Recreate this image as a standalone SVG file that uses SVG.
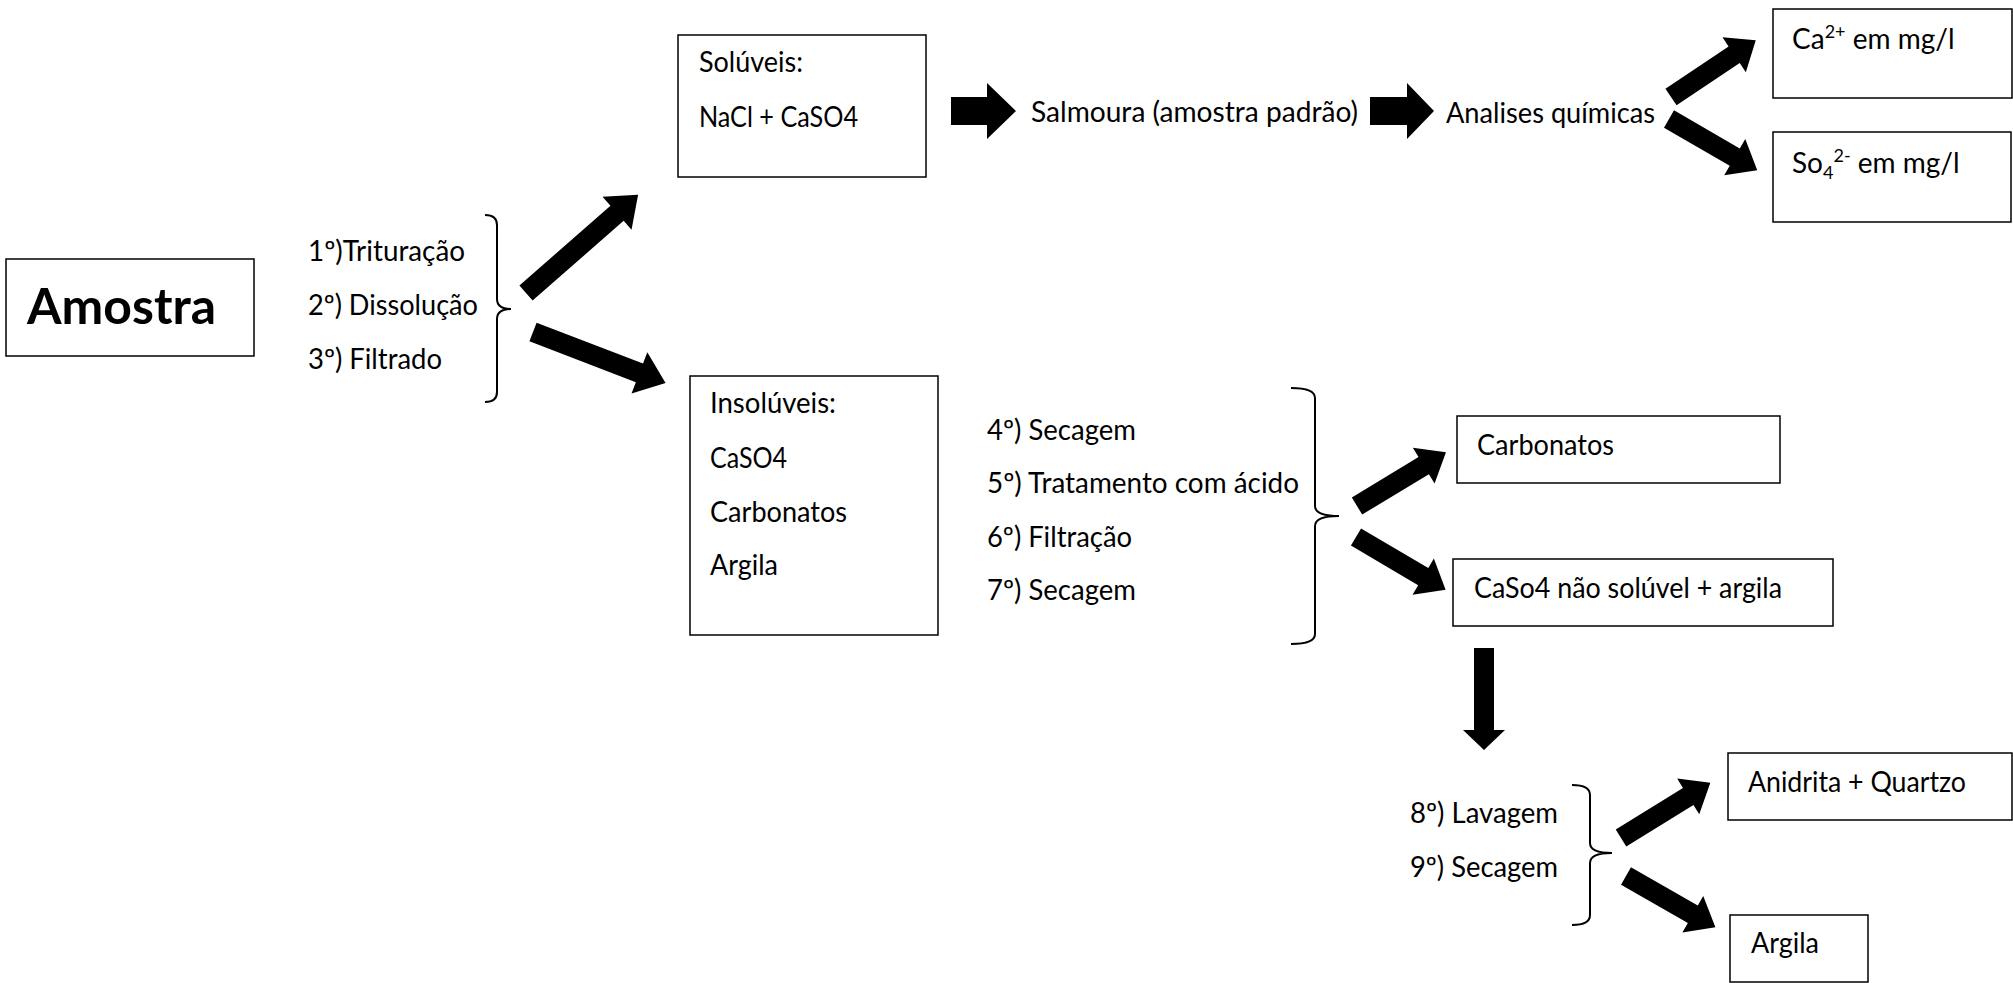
<svg xmlns="http://www.w3.org/2000/svg" width="2013" height="983" viewBox="0 0 2013 983">
  <defs>
    <style>
      .box { fill: #ffffff; stroke: #000000; stroke-width: 1.5; }
      .t { font-family: Lato, "Open Sans", "Liberation Sans", sans-serif; font-size: 28px; fill: #000000; }
      .big { font-family: Lato, "Open Sans", "Liberation Sans", sans-serif; font-size: 49px; font-weight: bold; fill: #000000; }
      .sup { font-size: 18px; }
      .brace { fill: none; stroke: #000000; stroke-width: 2; }
      .arrow { fill: #000000; stroke: none; }
    </style>
  </defs>
  <rect width="2013" height="983" fill="#ffffff"/>

  <!-- connectors: block arrows and braces -->
  <g id="connectors">
    <!-- brace after steps 1-3 -->
    <path class="brace" d="M485,215 Q497,215 497,225 V299 Q497,309 511,309 Q497,309 497,319 V392 Q497,402 485,402"/>
    <!-- brace after steps 4-7 -->
    <path class="brace" d="M1291,388 Q1315,388 1315,398 V506 Q1315,516 1339,516 Q1315,516 1315,526 V634 Q1315,644 1291,644"/>
    <!-- brace after steps 8-9 -->
    <path class="brace" d="M1572,785 Q1590,785 1590,795 V843 Q1590,853 1612,853 Q1590,853 1590,863 V915 Q1590,925 1572,925"/>

    <!-- from steps 1-3 to Solúveis / Insolúveis -->
    <polygon class="arrow" transform="translate(526,293) rotate(-41.2)" points="0,-10 121,-10 121,-22 149,0 121,22 121,10 0,10"/>
    <polygon class="arrow" transform="translate(533,332) rotate(21)" points="0,-10 114,-10 114,-22 142,0 114,22 114,10 0,10"/>

    <!-- horizontal chain on the top row -->
    <polygon class="arrow" points="951,97 987,97 987,83 1016,111 987,139 987,125 951,125"/>
    <polygon class="arrow" points="1370,97 1407,97 1407,83 1434,111 1407,139 1407,125 1370,125"/>

    <!-- from Analises químicas -->
    <polygon class="arrow" transform="translate(1671,97) rotate(-33.8)" points="0,-10 76,-10 76,-21 102,0 76,21 76,10 0,10"/>
    <polygon class="arrow" transform="translate(1669,119) rotate(30.1)" points="0,-10 76,-10 76,-21 102,0 76,21 76,10 0,10"/>

    <!-- from steps 4-7 -->
    <polygon class="arrow" transform="translate(1357,506) rotate(-31.2)" points="0,-10 78,-10 78,-21 104,0 78,21 78,10 0,10"/>
    <polygon class="arrow" transform="translate(1356,537) rotate(30.5)" points="0,-10 78,-10 78,-21 104,0 78,21 78,10 0,10"/>

    <!-- down from CaSo4 não solúvel + argila -->
    <polygon class="arrow" points="1474,648 1494,648 1494,730 1505,730 1484,750 1463,730 1474,730"/>

    <!-- from steps 8-9 -->
    <polygon class="arrow" transform="translate(1621,838) rotate(-31.7)" points="0,-10 79,-10 79,-21 105,0 79,21 79,10 0,10"/>
    <polygon class="arrow" transform="translate(1626,876) rotate(29.8)" points="0,-10 77,-10 77,-21 103,0 77,21 77,10 0,10"/>
  </g>

  <g id="amostra">
    <rect class="box" x="6" y="259" width="248" height="97"/>
    <text class="big" x="27" y="324" textLength="189" lengthAdjust="spacingAndGlyphs">Amostra</text>
  </g>

  <g id="steps-1-3">
    <text class="t" x="308" y="261" textLength="157" lengthAdjust="spacingAndGlyphs">1º)Trituração</text>
    <text class="t" x="308" y="315" textLength="170" lengthAdjust="spacingAndGlyphs">2º) Dissolução</text>
    <text class="t" x="308" y="369" textLength="134" lengthAdjust="spacingAndGlyphs">3º) Filtrado</text>
  </g>

  <g id="soluveis">
    <rect class="box" x="678" y="35" width="248" height="142"/>
    <text class="t" x="699" y="72" textLength="104" lengthAdjust="spacingAndGlyphs">Solúveis:</text>
    <text class="t" x="699" y="127" textLength="159" lengthAdjust="spacingAndGlyphs">NaCl + CaSO4</text>
  </g>

  <g id="salmoura">
    <text class="t" x="1031" y="122" textLength="327" lengthAdjust="spacingAndGlyphs">Salmoura (amostra padrão)</text>
  </g>

  <g id="analises">
    <text class="t" x="1446" y="123" textLength="209" lengthAdjust="spacingAndGlyphs">Analises químicas</text>
  </g>

  <g id="calcio">
    <rect class="box" x="1773" y="9" width="239" height="89"/>
    <text class="t" x="1792" y="49">Ca<tspan class="sup" dy="-11">2+</tspan><tspan dy="11"> em mg/l</tspan></text>
  </g>

  <g id="sulfato">
    <rect class="box" x="1773" y="132" width="238" height="90"/>
    <text class="t" x="1792" y="173">So<tspan class="sup" dy="6">4</tspan><tspan class="sup" dy="-17">2-</tspan><tspan dy="11"> em mg/l</tspan></text>
  </g>

  <g id="insoluveis">
    <rect class="box" x="690" y="376" width="248" height="259"/>
    <text class="t" x="710" y="413" textLength="126" lengthAdjust="spacingAndGlyphs">Insolúveis:</text>
    <text class="t" x="710" y="468" textLength="77" lengthAdjust="spacingAndGlyphs">CaSO4</text>
    <text class="t" x="710" y="522" textLength="137" lengthAdjust="spacingAndGlyphs">Carbonatos</text>
    <text class="t" x="710" y="575" textLength="68" lengthAdjust="spacingAndGlyphs">Argila</text>
  </g>

  <g id="steps-4-7">
    <text class="t" x="987" y="440" textLength="149" lengthAdjust="spacingAndGlyphs">4º) Secagem</text>
    <text class="t" x="987" y="493" textLength="312" lengthAdjust="spacingAndGlyphs">5º) Tratamento com ácido</text>
    <text class="t" x="987" y="547" textLength="145" lengthAdjust="spacingAndGlyphs">6º) Filtração</text>
    <text class="t" x="987" y="600" textLength="149" lengthAdjust="spacingAndGlyphs">7º) Secagem</text>
  </g>

  <g id="carbonatos">
    <rect class="box" x="1457" y="416" width="323" height="67"/>
    <text class="t" x="1477" y="455" textLength="137" lengthAdjust="spacingAndGlyphs">Carbonatos</text>
  </g>

  <g id="caso4-argila">
    <rect class="box" x="1453" y="559" width="380" height="67"/>
    <text class="t" x="1474" y="598" textLength="308" lengthAdjust="spacingAndGlyphs">CaSo4 não solúvel + argila</text>
  </g>

  <g id="steps-8-9">
    <text class="t" x="1410" y="823" textLength="148" lengthAdjust="spacingAndGlyphs">8º) Lavagem</text>
    <text class="t" x="1410" y="877" textLength="148" lengthAdjust="spacingAndGlyphs">9º) Secagem</text>
  </g>

  <g id="anidrita-quartzo">
    <rect class="box" x="1728" y="753" width="284" height="67"/>
    <text class="t" x="1748" y="792" textLength="218" lengthAdjust="spacingAndGlyphs">Anidrita + Quartzo</text>
  </g>

  <g id="argila">
    <rect class="box" x="1730" y="915" width="138" height="67"/>
    <text class="t" x="1751" y="953" textLength="68" lengthAdjust="spacingAndGlyphs">Argila</text>
  </g>
</svg>
